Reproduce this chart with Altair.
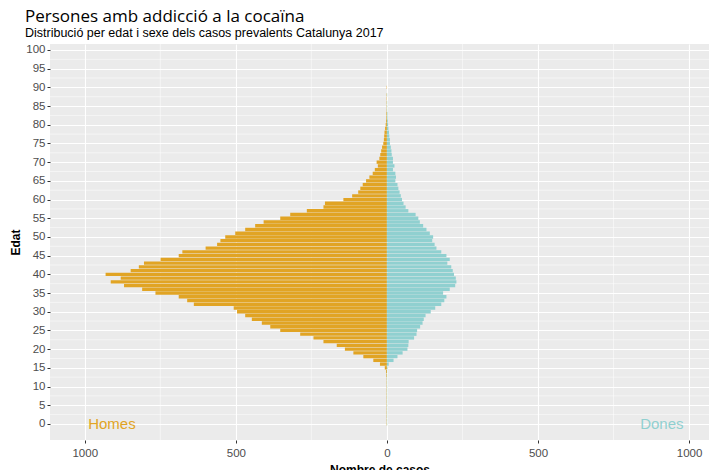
import altair as alt
import pandas as pd

ages = list(range(0, 91))
homes = [1, 1, 1, 1, 1, 1, 1, 1, 1, 1,
         1, 1, 1, 2, 3, 7, 23, 45, 78, 111,
         139, 166, 210, 243, 287, 353, 386, 414, 447, 469,
         496, 507, 639, 661, 689, 766, 810, 870, 914, 881,
         931, 848, 821, 804, 749, 689, 677, 600, 562, 551,
         535, 502, 469, 436, 408, 353, 320, 265, 210, 205,
         144, 115, 95, 88, 80, 69, 58, 47, 40, 30,
         34, 25, 22, 19, 16, 12, 10, 9, 8, 6,
         4, 3, 2, 2, 1, 1, 1, 1, 1, 0, 1]
dones = [1, 1, 1, 1, 1, 1, 1, 1, 1, 1,
         1, 1, 1, 1, 1, 2, 6, 22, 35, 52,
         68, 71, 72, 90, 98, 100, 110, 118, 122, 128,
         145, 160, 180, 190, 197, 186, 208, 226, 230, 228,
         222, 218, 213, 200, 208, 197, 180, 164, 158, 150,
         153, 142, 131, 120, 109, 104, 95, 71, 62, 55,
         50, 46, 42, 38, 35, 28, 30, 28, 20, 25,
         20, 20, 16, 15, 13, 10, 10, 8, 7, 5,
         4, 3, 2, 2, 1, 1, 1, 0, 1, 0, 0]

label_text = ["Homes", "Dones"]
label_x = [-910, 910]
label_age = [0, 0]

x_ticks = [-1000, -500, 0, 500, 1000]
y_ticks = [0, 5, 10, 15, 20, 25, 30, 35, 40, 45, 50, 55, 60, 65, 70, 75, 80, 85, 90, 95, 100]
x_minor = [-750, -250, 250, 750]
y_minor = [2.5, 7.5, 12.5, 17.5, 22.5, 27.5, 32.5, 37.5, 42.5, 47.5,
           52.5, 57.5, 62.5, 67.5, 72.5, 77.5, 82.5, 87.5, 92.5, 97.5]

ORANGE = "#E1A424"
TEAL = "#90D0D0"

df = pd.DataFrame({
    "edat": ages + ages,
    "sexe": ["Homes"] * len(ages) + ["Dones"] * len(ages),
    "casos": homes + dones,
})

xscale = alt.Scale(domain=[-1115, 1066], nice=False, zero=False)
yscale = alt.Scale(domain=[-4.3, 101.6], nice=False, zero=False)
x_axis = alt.Axis(values=x_ticks, labelExpr="abs(datum.value)", labelOverlap=False)
y_axis = alt.Axis(values=y_ticks, labelOverlap=False, titleX=-28, titleY=198)
XT = "Nombre de casos"
YT = "Edat"

color = alt.Color("sexe:N", scale=alt.Scale(domain=["Homes", "Dones"], range=[ORANGE, TEAL]), legend=None)

xminor = alt.Chart(pd.DataFrame({"v": x_minor})).mark_rule(color="white", strokeWidth=0.5).encode(
    x=alt.X("v:Q", scale=xscale, axis=x_axis, title=XT)
)
yminor = alt.Chart(pd.DataFrame({"v": y_minor})).mark_rule(color="white", strokeWidth=0.5).encode(
    y=alt.Y("v:Q", scale=yscale, axis=y_axis, title=YT)
)

bars = alt.Chart(df).transform_calculate(
    xv="datum.sexe == 'Homes' ? -datum.casos : datum.casos",
    y0="datum.edat - 0.45",
    y1="datum.edat + 0.45",
).mark_rect().encode(
    x=alt.X("xv:Q", scale=xscale, axis=x_axis, title=XT),
    x2=alt.datum(0),
    y=alt.Y("y0:Q", scale=yscale, axis=y_axis, title=YT),
    y2="y1:Q",
    color=color,
)

labels = alt.Chart(pd.DataFrame({"t": label_text, "x": label_x, "y": label_age})).mark_text(
    fontSize=15, font="Liberation Sans", align="center", baseline="middle"
).encode(
    x=alt.X("x:Q", scale=xscale, axis=x_axis, title=XT),
    y=alt.Y("y:Q", scale=yscale, axis=y_axis, title=YT),
    text="t:N",
    color=alt.Color("t:N", scale=alt.Scale(domain=["Homes", "Dones"], range=[ORANGE, TEAL]), legend=None),
)

chart = alt.layer(xminor, yminor, bars, labels).properties(
    width=659,
    height=396,
    autosize=alt.AutoSizeParams(type="none"),
    padding={"left": 42, "top": 36, "right": 0, "bottom": 30},
    title=alt.TitleParams(
        text="Persones amb addicció a la cocaïna",
        subtitle="Distribució per edat i sexe dels casos prevalents Catalunya 2017",
        anchor="start",
        frame="group",
        dx=-25,
        offset=3,
        font="Open Sans",
        fontSize=17,
        fontWeight="normal",
        color="#000000",
        subtitleFont="Liberation Sans",
        subtitleFontSize=12.5,
        subtitleColor="#000000",
        subtitlePadding=1,
    ),
).configure_view(
    fill="#EBEBEB", stroke=None
).configure_axis(
    grid=True,
    gridColor="white",
    gridWidth=1.1,
    domain=False,
    tickColor="#333333",
    tickSize=3,
    labelFont="Liberation Sans",
    labelFontSize=11.5,
    labelColor="#4D4D4D",
    labelPadding=2,
    titleFont="Liberation Sans",
    titleFontSize=12,
    titleFontWeight="bold",
    titleColor="#000000",
).configure_axisX(
    titlePadding=6,
    labelPadding=4,
)

chart.save("out.html", embed_options={"renderer": "svg", "actions": False})
